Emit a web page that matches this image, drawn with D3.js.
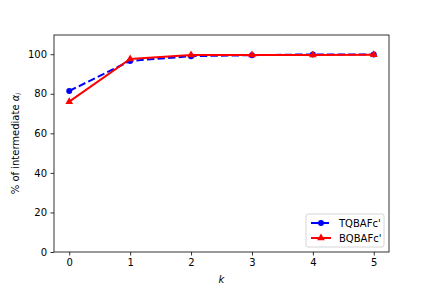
<!DOCTYPE html>
<html>
<head>
<meta charset="utf-8">
<script src="https://cdn.jsdelivr.net/npm/d3@7"></script>
<style>
  body { margin: 0; background: #fff; }
  svg { font-family: "DejaVu Sans", sans-serif; }
</style>
</head>
<body>
<div id="chart-area"></div>
<script>
// data
var kValues = [0, 1, 2, 3, 4, 5];
var tqbafc = [81.4, 96.6, 99.0, 99.5, 99.9, 99.9];
var bqbafc = [76.0, 97.6, 99.6, 99.6, 99.6, 99.7];
var yTicks = [0, 20, 40, 60, 80, 100];
var seriesNames = ["TQBAFc'", "BQBAFc'"];

var W = 432, H = 288;
var margin = { left: 54, right: 43, top: 35, bottom: 36 };
var width = W - margin.left - margin.right,
    height = H - margin.top - margin.bottom;

var svg = d3.select('#chart-area')
  .append('svg')
    .attr('width', W)
    .attr('height', H);

var g = svg.append('g')
  .attr('transform', 'translate(' + margin.left + ',' + margin.top + ')');

var x = d3.scaleLinear().domain([-0.25, 5.25]).range([0, width]);
var y = d3.scaleLinear().domain([0, 109.7]).range([height, 0]);

// axes
var xAxis = g.append('g')
  .attr('transform', 'translate(0,' + height + ')')
  .call(d3.axisBottom(x).tickValues(kValues).tickSize(3.5).tickPadding(3.5).tickFormat(d3.format('d')));
var yAxis = g.append('g')
  .call(d3.axisLeft(y).tickValues(yTicks).tickSize(3.5).tickPadding(3.5));

[xAxis, yAxis].forEach(function(a) {
  a.select('.domain').remove();
  a.selectAll('.tick line').attr('stroke', '#000').attr('stroke-width', 0.8);
  a.selectAll('.tick text').attr('fill', '#000').attr('font-size', '10px')
    .attr('font-family', '"DejaVu Sans", sans-serif');
});

// frame
g.append('rect')
  .attr('width', width)
  .attr('height', height)
  .attr('fill', 'none')
  .attr('stroke', '#000')
  .attr('stroke-width', 0.8);

var line = d3.line()
  .x(function(d, i) { return x(kValues[i]); })
  .y(function(d) { return y(d); });

// TQBAFc' - blue dashed with circles
g.append('path')
  .datum(tqbafc)
  .attr('d', line)
  .attr('fill', 'none')
  .attr('stroke', '#0000ff')
  .attr('stroke-width', 2)
  .attr('stroke-dasharray', '7.4,3.2');
g.selectAll('.dot-b').data(tqbafc).enter()
  .append('circle')
    .attr('class', 'dot-b')
    .attr('cx', function(d, i) { return x(kValues[i]); })
    .attr('cy', function(d) { return y(d); })
    .attr('r', 3)
    .attr('fill', '#0000ff');

// BQBAFc' - red solid with triangles
var tri = d3.symbol().type(d3.symbolTriangle).size(26);
g.append('path')
  .datum(bqbafc)
  .attr('d', line)
  .attr('fill', 'none')
  .attr('stroke', '#ff0000')
  .attr('stroke-width', 2);
g.selectAll('.dot-r').data(bqbafc).enter()
  .append('path')
    .attr('class', 'dot-r')
    .attr('d', tri)
    .attr('transform', function(d, i) { return 'translate(' + x(kValues[i]) + ',' + y(d) + ')'; })
    .attr('fill', '#ff0000');

// axis labels
g.append('text')
  .attr('x', width / 2)
  .attr('y', height + 31)
  .attr('text-anchor', 'middle')
  .attr('font-size', '10px')
  .attr('font-style', 'italic')
  .text('k');

var yl = g.append('text')
  .attr('transform', 'translate(' + (-35) + ',' + (height / 2) + ') rotate(-90)')
  .attr('text-anchor', 'middle')
  .attr('font-size', '10px');
yl.append('tspan').text('% of intermediate ');
yl.append('tspan').attr('font-style', 'italic').text('α');
yl.append('tspan').attr('font-style', 'italic').attr('font-size', '7px').attr('dy', 2).text('i');

// legend
var legend = g.append('g')
  .attr('transform', 'translate(' + (width - 83) + ',' + (height - 38) + ')');
legend.append('rect')
  .attr('width', 78)
  .attr('height', 33)
  .attr('rx', 2)
  .attr('fill', '#fff')
  .attr('fill-opacity', 0.8)
  .attr('stroke', '#ccc')
  .attr('stroke-width', 0.8);

var entries = [
  { name: seriesNames[0], color: '#0000ff', dash: '7.4,3.2', marker: 'circle' },
  { name: seriesNames[1], color: '#ff0000', dash: null, marker: 'tri' }
];
entries.forEach(function(e, i) {
  var row = legend.append('g').attr('transform', 'translate(0,' + (9 + i * 15) + ')');
  row.append('line')
    .attr('x1', 5).attr('x2', 25)
    .attr('stroke', e.color)
    .attr('stroke-width', 2)
    .attr('stroke-dasharray', e.dash);
  if (e.marker === 'circle') {
    row.append('circle').attr('cx', 15).attr('r', 3).attr('fill', e.color);
  } else {
    row.append('path').attr('d', tri).attr('transform', 'translate(15,0)').attr('fill', e.color);
  }
  row.append('text')
    .attr('x', 33)
    .attr('dy', '0.35em')
    .attr('font-size', '10px')
    .text(e.name);
});
</script>
</body>
</html>
